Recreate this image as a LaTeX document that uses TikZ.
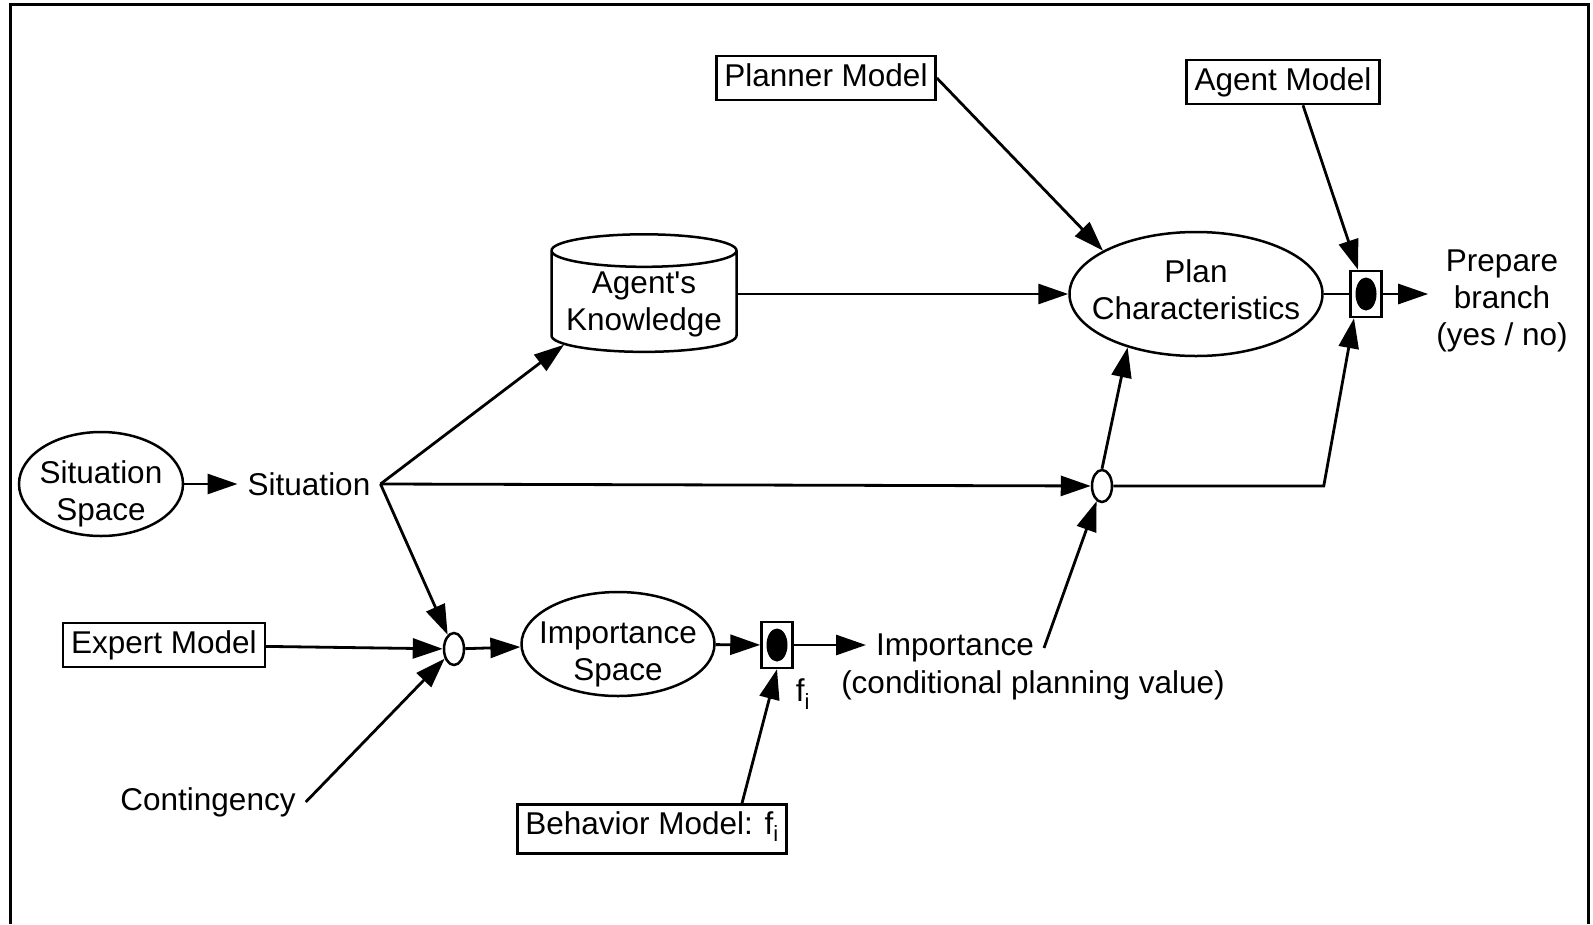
\documentclass[tikz,border=0pt]{standalone}
\usepackage{fontspec}
\setmainfont{Liberation Sans}
\usetikzlibrary{arrows.meta, positioning, shapes.geometric}

\begin{document}
\begin{tikzpicture}[
    x=1pt, y=-1pt,
    box/.style = {rectangle, draw, line width=2.5pt, inner xsep=8pt, inner ysep=7pt,
                  text height=23pt, text depth=7pt},
    ell/.style = {ellipse, draw, line width=2.5pt, inner xsep=-16pt, inner ysep=-8pt, align=center},
    knot/.style = {ellipse, draw, line width=2.5pt, minimum width=20pt, minimum height=32pt, inner sep=0pt},
    gate/.style = {rectangle, draw, line width=2.5pt, minimum width=31pt, minimum height=46pt, inner sep=0pt},
    dot/.style = {ellipse, fill, minimum width=21pt, minimum height=33pt, inner sep=0pt},
    txt/.style = {align=center, inner sep=10pt},
    pil/.style = {black, line width=2.8pt, -{Triangle[length=30pt, width=20pt]}},
    lin/.style = {black, line width=2.8pt},
    font=\fontsize{31.5}{37}\selectfont
    ]

  \useasboundingbox (0,0) rectangle (1593,924);
  \draw[line width=3.5pt] (10.5,924) -- (10.5,4.7) -- (1588.5,4.7) -- (1588.5,924);

  % left part
  \node[ell, minimum width=164pt, minimum height=104pt, text height=79pt] (sitspace) at (101,484) {Situation\\Space};
  \node[txt] (situation) at (309,484) {Situation};
  \node[box] (expert) at (164,645) {Expert Model};
  \node[txt] (contingency) at (208,802) {Contingency};
  \node[knot] (knotL) at (454,649) {};

  % importance
  \node[ell, minimum width=193pt, minimum height=104pt, text height=79pt] (impspace) at (618,644) {Importance\\Space};
  \node[gate] (gateL) at (777,645) {};
  \node[dot] (dotL) at (gateL) {};
  \node[inner sep=0pt] (fi) at (803,694) {f\textsubscript{i}};
  \node[box, text depth=12pt] (behavior) at (652,829) {Behavior Model: f\textsubscript{i}};
  \node[txt] (imp) at (955,648) {Importance};
  \node[inner sep=0pt] (impnote) at (1033,685) {(conditional planning value)};

  % knowledge and plan
  \node[cylinder, shape border rotate=90, aspect=0.2, draw, line width=2.5pt,
        minimum width=185pt, minimum height=114pt, align=center] (know) at (644,304) {Agent\textquotesingle s\\Knowledge};
  \node[box] (planner) at (826,78) {Planner Model};
  \node[box] (agent) at (1283,82) {Agent Model};
  \node[ell, minimum width=253pt, minimum height=124pt, text height=52pt] (plan) at (1196,294) {Plan\\Characteristics};
  \node[knot] (knotR) at (1102,486) {};
  \node[gate] (gateR) at (1366,294) {};
  \node[dot] (dotR) at (gateR) {};
  \node[txt, inner sep=8pt] (prepare) at (1502,301) {Prepare\\branch\\(yes / no)};

  \draw[pil] (sitspace) -- (situation);
  \draw[pil] (situation.east) -- (know.207);
  \draw[pil] (situation.east) -- (knotR);
  \draw[pil] (situation.east) -- (knotL);
  \draw[pil] (expert) -- (knotL);
  \draw[pil] (contingency.east) -- (knotL);
  \draw[pil] (knotL) -- (impspace);
  \draw[pil] (impspace) -- (gateL);
  \draw[pil] (gateL.east) -- (gateL.east -| imp.west);
  \draw[pil] ([xshift=90pt]behavior.north) -- (gateL.south);
  \draw[pil] (imp.east) -- (knotR);
  \draw[pil] (knotR.north) -- (plan.218);
  \draw[pil] (knotR.east) -- (plan.east |- knotR.east) -- ([xshift=-12pt]gateR.south);
  \draw[pil] (know.0 |- plan) -- (plan);
  \draw[pil] (planner.east) -- (plan.155);
  \draw[pil] ([xshift=20pt]agent.south) -- ([xshift=-8pt]gateR.north);
  \draw[lin] (plan.east) -- (gateR.west);
  \draw[pil] (gateR.east) -- (gateR.east -| prepare.west);

\end{tikzpicture}
\end{document}
